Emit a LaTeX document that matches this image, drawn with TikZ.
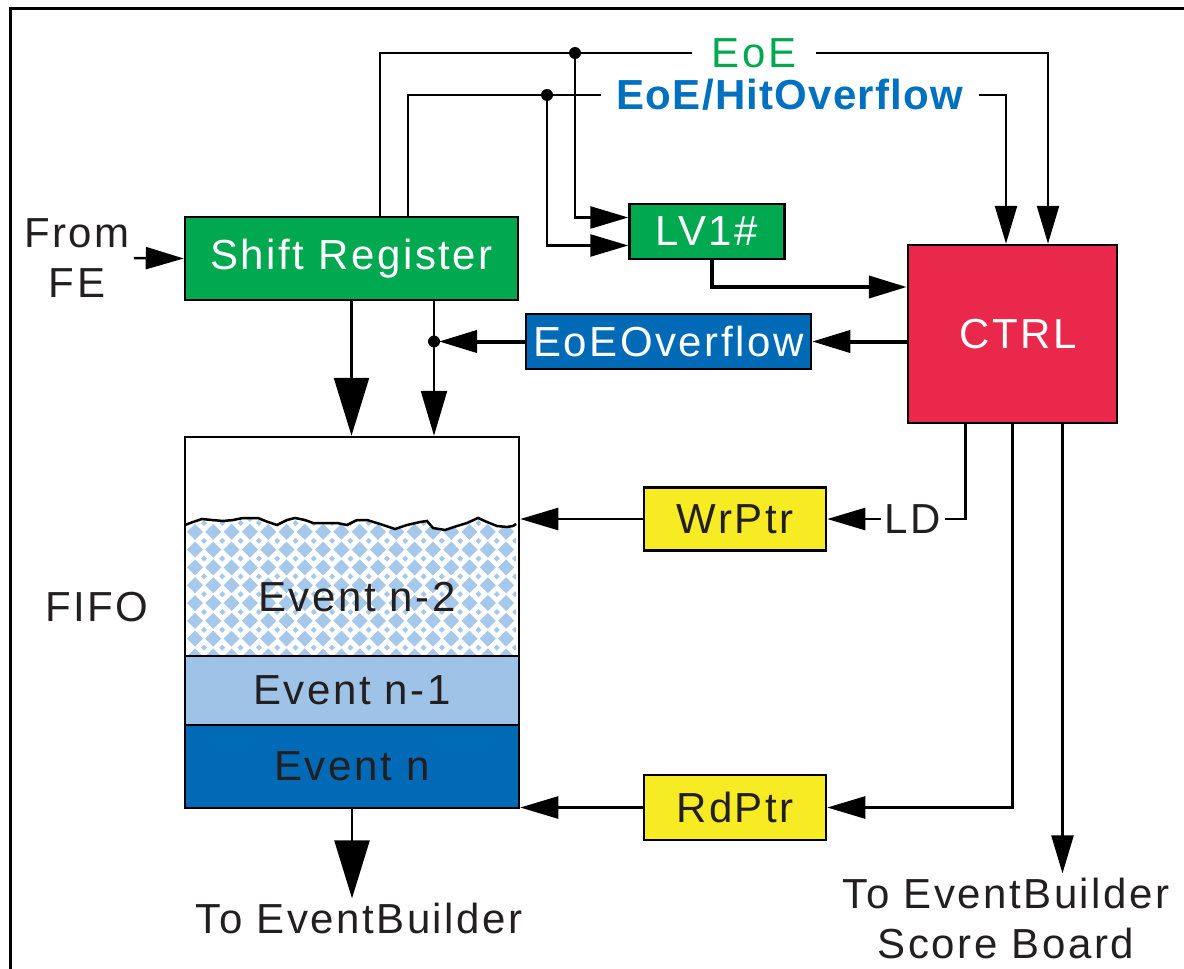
\documentclass[tikz,border=0pt]{standalone}
\usepackage{fontspec}
\setmainfont{Liberation Sans}[LetterSpace=6]
\newfontfamily\hofont{Liberation Sans}[LetterSpace=3]
\usetikzlibrary{arrows.meta}
\definecolor{srgreen}{HTML}{00A94F}
\definecolor{ovblue}{HTML}{006AB6}
\definecolor{hoblue}{HTML}{0070C0}
\definecolor{ctrlred}{HTML}{E9284B}
\definecolor{ptryellow}{HTML}{F7EC23}
\definecolor{evlight}{HTML}{9EC3E6}
\definecolor{dotblue}{HTML}{A6C8EA}
\definecolor{txt}{HTML}{231F20}

\begin{document}
\begin{tikzpicture}[x=1pt, y=-1pt,
    every node/.style={font=\fontsize{42pt}{50pt}\selectfont, text=txt, inner sep=4pt},
    blk/.style={draw, line width=2.5pt, inner sep=0pt},
    wire/.style={line width=2.5pt},
    heavy/.style={line width=4pt},
    arr/.style={wire, -{Triangle[length=38pt, width=22pt]}},
    medarr/.style={wire, -{Triangle[length=45pt, width=26pt]}},
    bigarr/.style={wire, -{Triangle[length=58pt, width=35pt]}}]
    \useasboundingbox (0,0) rectangle (1184,969);
    \draw[line width=3pt] (10,975) -- (10,8) -- (1190,8);

    \node[blk, fill=srgreen, text=white, minimum width=333pt, minimum height=83pt] (shiftreg) at (351.5,258.5) {Shift Register};
    \node[blk, fill=srgreen, text=white, minimum width=155pt, minimum height=55pt] (lv1) at (707,231.5) {LV1\#};
    \node[blk, fill=ctrlred, text=white, minimum width=209pt, minimum height=178pt] (ctrl) at (1012.5,334) {\hspace*{12pt}CTRL};
    \node[blk, fill=ovblue, text=white, minimum width=285pt, minimum height=55pt] (eoeov) at (668.5,341.5) {EoEOverflow};
    \node[blk, fill=ptryellow, minimum width=182pt, minimum height=63pt] (wrptr) at (735,519) {WrPtr};
    \node[blk, fill=ptryellow, minimum width=182pt, minimum height=65pt] (rdptr) at (735,807.5) {RdPtr};

    \begin{scope}
        \clip (185,525) -- (193,522) -- (202,519) -- (212,520) -- (223,521) -- (233,520) -- (243,518) -- (258,518) -- (268,522) -- (277,525) -- (287,520) -- (295,518) -- (305,520) -- (313,523) -- (327,523) -- (337,523) -- (347,525) -- (357,520) -- (367,520) -- (380,524) -- (395,529) -- (407,525) -- (420,522) -- (427,521) -- (433,528) -- (445,530) -- (457,526) -- (467,523) -- (478,518) -- (487,522) -- (497,526) -- (507,527) -- (513,526) -- (516,524) -- (516,656) -- (185,656) -- cycle;
        \foreach \i in {0,...,18}
            \foreach \j in {0,...,8}
            {
                \fill[dotblue] ({195+18.3*\i},{514+17.8*\j}) +(-8,0) -- +(0,-8) -- +(8,0) -- +(0,8) -- cycle;
                \fill[dotblue] ({204+18.3*\i},{523+17.8*\j}) +(-3,0) -- +(0,-3) -- +(3,0) -- +(0,3) -- cycle;
            }
    \end{scope}
    \draw[wire] plot coordinates {(185,525) (193,522) (202,519) (212,520) (223,521) (233,520) (243,518) (258,518) (268,522) (277,525) (287,520) (295,518) (305,520) (313,523) (327,523) (337,523) (347,525) (357,520) (367,520) (380,524) (395,529) (407,525) (420,522) (427,521) (433,528) (445,530) (457,526) (467,523) (478,518) (487,522) (497,526) (507,527) (513,526) (516,524)};
    \node[blk, fill=evlight, minimum width=334pt, minimum height=69pt] (evn1) at (352,690.5) {Event n-1};
    \node[blk, fill=ovblue, minimum width=334pt, minimum height=83pt] (evn) at (352,766.5) {Event n};
    \node (evn2) at (357,597) {Event n-2};
    \node[blk, minimum width=334pt, minimum height=371pt] (fifo) at (352,622.5) {};

    \node[align=center] (fromfe) at (77,258) {From\\FE};
    \node (fifolbl) at (97,607) {FIFO};
    \node[text=srgreen, inner xsep=20pt] (eoe) at (754,53) {EoE};
    \node[text=hoblue, inner xsep=15pt, font=\hofont\bfseries\fontsize{42pt}{50pt}\selectfont] (hitov) at (790,95) {EoE/HitOverflow};
    \node (ld) at (913,519) {LD};
    \node (toeb) at (359,918) {To EventBuilder};
    \node[align=center] (toscore) at (1006,918) {To EventBuilder\\Score Board};

    \coordinate (eoeL) at (380,53);
    \coordinate (eoeR) at (1048,53);
    \coordinate (hoL) at (408,95);
    \coordinate (hoR) at (1006,95);
    \coordinate (eoedot) at (575,53);
    \coordinate (hodot) at (547,95);
    \coordinate (ovdot) at (434,341.5);

    \draw[arr] (fromfe.east) -- (shiftreg.west);
    \draw[wire] (shiftreg.north -| eoeL) -- (eoeL) -- (eoe.west);
    \draw[arr] (eoe.east) -- (eoeR) -- (eoeR |- ctrl.north);
    \draw[wire] (shiftreg.north -| hoL) -- (hoL) -- (hitov.west);
    \draw[arr] (hitov.east) -- (hoR) -- (hoR |- ctrl.north);
    \draw[arr] (eoedot) |- ([yshift=14pt]lv1.west);
    \draw[arr] (hodot) |- ([yshift=-14pt]lv1.west);
    \fill (eoedot) circle (6pt) (hodot) circle (6pt);
    \draw[arr, heavy] ([xshift=5pt]lv1.south) |- ([yshift=47pt]ctrl.west);
    \draw[arr, heavy] (ctrl.west |- eoeov.east) -- (eoeov.east);
    \draw[arr, heavy, shorten >=5pt] (eoeov.west) -- (ovdot);
    \fill (ovdot) circle (6pt);
    \draw[bigarr] (shiftreg.south) -- (shiftreg.south |- fifo.north);
    \draw[medarr] (shiftreg.south -| ovdot) -- (fifo.north -| ovdot);
    \draw[arr] (wrptr.west) -- (wrptr.west -| fifo.east);
    \draw[arr] (rdptr.west) -- (rdptr.west -| fifo.east);
    \draw[wire] (ld.east) -| ([xshift=-47pt]ctrl.south);
    \draw[arr] (ld.west) -- (wrptr.east);
    \draw[arr] (ctrl.south) |- (rdptr.east);
    \draw[arr] ([xshift=50pt]ctrl.south) -- ([xshift=50pt]ctrl.south |- toscore.north);
    \draw[bigarr] (fifo.south) -- (fifo.south |- toeb.north);
\end{tikzpicture}
\end{document}
